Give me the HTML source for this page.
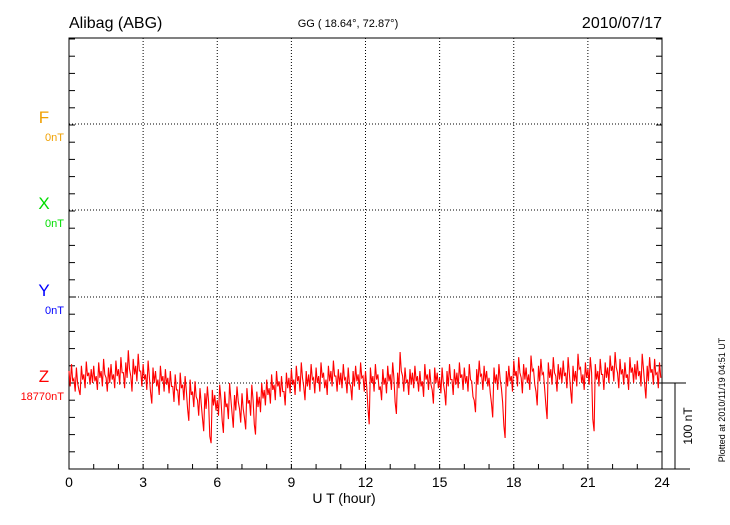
<!DOCTYPE html>
<html><head><meta charset="utf-8"><style>
body{margin:0;background:#fff;}
svg text{font-family:"Liberation Sans",sans-serif;}
</style></head><body>
<svg width="730" height="520" xmlns="http://www.w3.org/2000/svg">
<rect width="730" height="520" fill="#fff"/>
<text x="69" y="28" font-size="16">Alibag (ABG)</text>
<text x="348" y="27" font-size="11" text-anchor="middle">GG ( 18.64°,  72.87°)</text>
<text x="662" y="28" font-size="16" text-anchor="end">2010/07/17</text>
<g id="grid"></g>
<g id="axes"></g>
<g id="series"></g>
<text x="344" y="503" font-size="14" text-anchor="middle">U T (hour)</text>
<text transform="translate(725,400) rotate(-90)" font-size="9" text-anchor="middle">Plotted at 2010/11/19 04:51  UT</text>
<text transform="translate(692,426) rotate(-90)" font-size="12" text-anchor="middle">100 nT</text>
</svg>
<script>
const xTicks=[0,3,6,9,12,15,18,21,24];
const components=["F","X","Y","Z"];
const baseLabels=["0nT","0nT","0nT","18770nT"];
const compColors=["#f0a000","#00dd00","#0000ff","#ff0000"];
const zValues=[
14,22,5,18,-8,20,10,25,12,16,
20,8,24,14,28,6,18,22,10,26,
16,30,12,24,38,8,28,20,34,14,
22,10,26,-10,18,14,4,20,8,16,
6,14,-4,10,-8,12,-2,8,-30,4,
-10,2,-20,-6,-40,-12,-4,-62,-8,-14,
-20,-2,-44,-10,-24,0,-36,-14,-4,-30,
-12,-40,-6,-20,-2,-48,-10,-16,0,-8,
4,-6,10,-2,14,2,8,-10,12,6,
16,4,20,8,24,-4,14,10,22,6,
18,8,24,12,4,20,14,26,8,16,
12,22,6,18,-4,14,20,10,24,8,
14,-30,18,8,22,10,-4,16,6,20,
10,24,-22,12,36,8,18,4,16,12,
20,8,14,2,22,10,16,-8,18,12,
6,18,-10,14,22,4,16,12,24,10,
18,8,22,2,-20,16,26,10,20,14,
6,-24,18,10,22,-6,-50,14,20,8,
26,14,30,6,22,18,10,32,16,-10,
20,28,12,-26,24,16,30,8,22,18,
26,12,30,-8,20,14,34,18,10,24,
16,30,-42,22,14,28,10,24,18,32,
20,36,12,28,16,24,10,30,18,22,
26,14,34,-2,20,30,16,28,12,24];
const zLow=[
-4,2,-10,0,-14,4,-6,8,-2,0,
2,-8,6,-4,10,-10,0,4,-6,8,
-2,12,-6,6,16,-10,10,2,14,-4,
4,-8,8,-24,0,-4,-14,2,-10,-2,
-12,-4,-22,-8,-26,-6,-20,-10,-44,-14,
-28,-16,-38,-24,-56,-30,-22,-70,-26,-32,
-38,-20,-58,-28,-42,-18,-52,-32,-22,-46,
-30,-54,-24,-38,-20,-60,-28,-34,-18,-26,
-14,-24,-8,-20,-4,-16,-10,-26,-6,-12,
-2,-14,2,-10,6,-20,-4,-8,4,-12,
0,-10,6,-6,-14,2,-4,8,-10,-2,
-6,4,-12,0,-20,-4,2,-8,6,-10,
-4,-48,0,-10,4,-8,-20,-2,-12,2,
-8,6,-36,-6,14,-10,0,-14,-2,-6,
2,-10,-4,-16,4,-8,-2,-24,0,-6,
-12,0,-26,-4,4,-14,-2,-6,6,-8,
0,-10,4,-16,-34,-2,8,-8,2,-4,
-12,-40,0,-8,4,-22,-64,-4,2,-10,
8,-4,12,-12,4,0,-8,14,-2,-26,
2,10,-6,-42,6,-2,12,-10,4,0,
8,-6,12,-24,2,-4,16,0,-8,6,
-2,12,-56,4,-4,10,-8,6,0,14,
2,18,-6,10,-2,6,-8,12,0,4,
8,-4,16,-18,2,12,-2,10,-6,6];
const NS="http://www.w3.org/2000/svg";
const L=69,R=662,T=38,B=469,baseY=[124,210,297,383],pxPerNT=86/100;
const xS=h=>L+(R-L)*h/24;
const zY=v=>383-v*pxPerNT;
function mk(tag,at,parent){const e=document.createElementNS(NS,tag);for(const k in at)e.setAttribute(k,at[k]);parent.appendChild(e);return e;}
const grid=document.getElementById('grid'),axes=document.getElementById('axes'),ser=document.getElementById('series'),svg=document.querySelector('svg');
xTicks.forEach(t=>{if(t>0&&t<24){const l=mk('line',{x1:xS(t),x2:xS(t),y1:T,y2:B,stroke:'#000','stroke-width':1,'stroke-dasharray':'1,2'},grid);

}
const tx=mk('text',{x:xS(t),y:487,'font-size':14,'text-anchor':'middle'},axes);tx.textContent=t;

});
baseY.forEach(y=>{const l=mk('line',{x1:L,x2:R,y1:y,y2:y,stroke:'#000','stroke-width':1,'stroke-dasharray':'1,2'},grid);

});
const fr=mk('rect',{x:L,y:T,width:R-L,height:B-T,fill:'none',stroke:'#000','stroke-width':1},axes);


for(let h=0;h<=24;h++){mk('line',{x1:xS(h),x2:xS(h),y1:B,y2:B-5,stroke:'#000'},axes);}
for(let y=B;y>=T;y-=86/5){mk('line',{x1:L,x2:L+6,y1:y,y2:y,stroke:'#000'},axes);mk('line',{x1:R,x2:R-6,y1:y,y2:y,stroke:'#000'},axes);}
mk('line',{x1:R,x2:690,y1:B,y2:B,stroke:'#000'},axes);
const sb=mk('path',{d:`M${R} 383H686M675 383V469`,stroke:'#000',fill:'none'},axes);


components.forEach((c,i)=>{const t=mk('text',{x:44,y:baseY[i]-1,'font-size':17,'text-anchor':'middle',fill:compColors[i]},svg);t.textContent=c;


const b=mk('text',{x:64,y:baseY[i]+17,'font-size':11,'text-anchor':'end',fill:compColors[i]},svg);b.textContent=baseLabels[i];

});
const n=zValues.length;
const pts=[];
for(let i=0;i<n;i++){
  const h0=i*24/n;
  pts.push(xS(h0).toFixed(1)+','+zY(zValues[i]).toFixed(1));
  pts.push(xS(h0+12/n).toFixed(1)+','+zY(zLow[i]).toFixed(1));
}
const pl=mk('polyline',{points:pts.join(' '),fill:'none',stroke:'#ff0000','stroke-width':1.1},ser);


</script>
</body></html>
